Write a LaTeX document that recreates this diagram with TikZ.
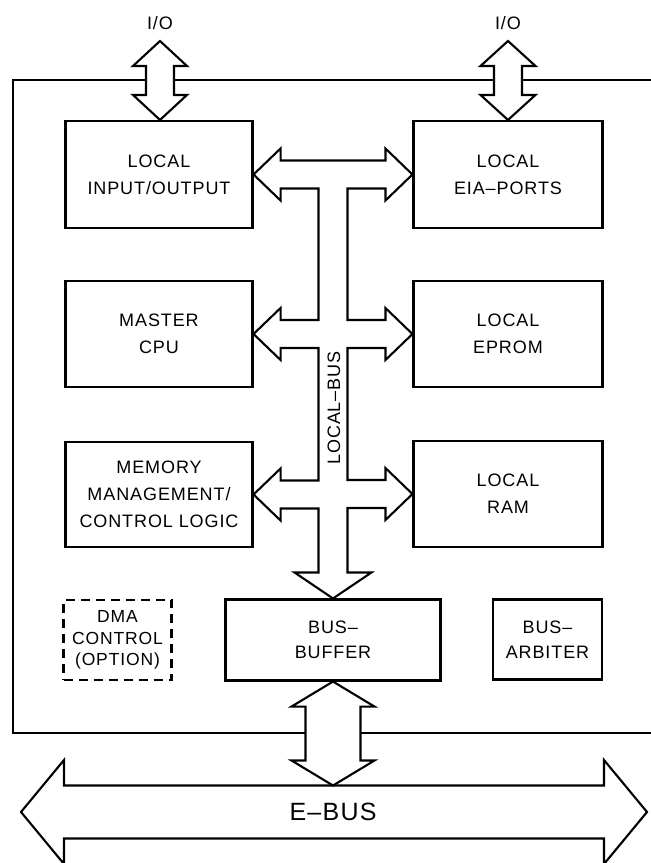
\documentclass[tikz,border=0pt]{standalone}
\usepackage{fontspec}
\setmainfont{Liberation Sans}[LetterSpace=5]
\usetikzlibrary{calc}

\newcommand\boxfont{\fontsize{18}{27}\selectfont}
\newcommand\dmafont{\fontsize{17.5}{21.5}\selectfont}
\newcommand\pairfont{\fontsize{18}{25}\selectfont}
\newcommand\ebusfont{\fontsize{25}{30}\selectfont}

\tikzset{
  lw/.style={line width=2.1pt},
  blockbox/.style={draw, lw, inner sep=0pt, align=center, font=\boxfont},
  optbox/.style={blockbox, dash pattern=on 9pt off 6pt, font=\dmafont},
  pairbox/.style={blockbox, font=\pairfont},
  fatarrow/.style={draw, lw, fill=white, line join=miter},
  label/.style={inner sep=0pt, font=\boxfont},
}

% vertical two-headed block arrow: top tip #1, bottom tip #2,
% shaft half width #3, head half width #4, head length #5
\newcommand\vbiarrow[5]{%
  \draw[fatarrow] let \p1=(#1), \p2=(#2) in
    (\x1,\y1) -- (\x1+#4,\y1-#5) -- (\x1+#3,\y1-#5) -- (\x1+#3,\y2+#5)
    -- (\x1+#4,\y2+#5) -- (\x1,\y2) -- (\x1-#4,\y2+#5) -- (\x1-#3,\y2+#5)
    -- (\x1-#3,\y1-#5) -- (\x1-#4,\y1-#5) -- cycle;}

% horizontal two-headed block arrow: left tip #1, right tip #2
\newcommand\hbiarrow[5]{%
  \draw[fatarrow] let \p1=(#1), \p2=(#2) in
    (\x1,\y1) -- (\x1+#5,\y1+#4) -- (\x1+#5,\y1+#3) -- (\x2-#5,\y1+#3)
    -- (\x2-#5,\y1+#4) -- (\x2,\y1) -- (\x2-#5,\y1-#4) -- (\x2-#5,\y1-#3)
    -- (\x1+#5,\y1-#3) -- (\x1+#5,\y1-#4) -- cycle;}

\begin{document}
\begin{tikzpicture}[x=1pt,y=-1pt]
\useasboundingbox (0,0) rectangle (651,863);

% board outline (open to the right)
\draw[lw] (651,80) -| (13,733) -- (651,733);

% function blocks
\node[blockbox, minimum width=187pt, minimum height=107pt] (lio)   at (159,174.5) {LOCAL\\INPUT/OUTPUT};
\node[blockbox, minimum width=189pt, minimum height=107pt] (eia)   at (508,174.5) {LOCAL\\EIA--PORTS};
\node[blockbox, minimum width=187pt, minimum height=106pt] (cpu)   at (159,334)   {MASTER\\CPU};
\node[blockbox, minimum width=189pt, minimum height=106pt] (eprom) at (508,334)   {LOCAL\\EPROM};
\node[blockbox, minimum width=187pt, minimum height=105pt] (mmu)   at (159,494.5) {MEMORY\\MANAGEMENT/\\CONTROL LOGIC};
\node[blockbox, minimum width=189pt, minimum height=106pt] (ram)   at (508,494)   {LOCAL\\RAM};
\node[optbox,   minimum width=108pt, minimum height=80pt]  (dma)   at (117.5,640) {DMA\\CONTROL\\(OPTION)};
\node[pairbox,  minimum width=215pt, minimum height=81pt]  (bbuf)  at (333,640)   {BUS--\\BUFFER};
\node[pairbox,  minimum width=109pt, minimum height=80pt]  (barb)  at (547.5,639.5) {BUS--\\ARBITER};

% external I/O
\node[label] (io1) at (160,23) {I/O};
\node[label] (io2) at (508,23) {I/O};
\coordinate (io1end) at (160,41);
\coordinate (io2end) at (508,41);
\vbiarrow{io1end}{lio.north}{14pt}{27pt}{25pt}
\vbiarrow{io2end}{eia.north}{14pt}{27.5pt}{25pt}

% local bus
\draw[fatarrow] let \p1=(lio.east), \p2=(eia.west), \p3=(cpu.east), \p4=(eprom.west),
                    \p5=(mmu.east), \p6=(ram.west), \p7=(bbuf.north) in
  (\x1,\y1) -- (\x1+27pt,\y1+26pt) -- (\x1+27pt,\y1+14pt) -- (\x2-27pt,\y1+14pt)
  -- (\x2-27pt,\y1+26pt) -- (\x2,\y1) -- (\x2-27pt,\y1-26pt) -- (\x2-27pt,\y1-14pt)
  -- (\x7+14.5pt,\y1-14pt) -- (\x7+14.5pt,\y4+14pt) -- (\x4-27pt,\y4+14pt)
  -- (\x4-27pt,\y4+26pt) -- (\x4,\y4) -- (\x4-27pt,\y4-26pt) -- (\x4-27pt,\y4-14pt)
  -- (\x7+14.5pt,\y4-14pt) -- (\x7+14.5pt,\y6+14pt) -- (\x6-27pt,\y6+14pt)
  -- (\x6-27pt,\y6+26pt) -- (\x6,\y6) -- (\x6-27pt,\y6-26pt) -- (\x6-27pt,\y6-14pt)
  -- (\x7+14.5pt,\y6-14pt) -- (\x7+14.5pt,\y7+26pt) -- (\x7+38.5pt,\y7+26pt)
  -- (\x7,\y7) -- (\x7-38.5pt,\y7+26pt) -- (\x7-14.5pt,\y7+26pt)
  -- (\x7-14.5pt,\y5-14pt) -- (\x5+27pt,\y5-14pt) -- (\x5+27pt,\y5-26pt) -- (\x5,\y5)
  -- (\x5+27pt,\y5+26pt) -- (\x5+27pt,\y5+14pt) -- (\x7-14.5pt,\y5+14pt)
  -- (\x7-14.5pt,\y3-14pt) -- (\x3+27pt,\y3-14pt) -- (\x3+27pt,\y3-26pt) -- (\x3,\y3)
  -- (\x3+27pt,\y3+26pt) -- (\x3+27pt,\y3+14pt) -- (\x7-14.5pt,\y3+14pt)
  -- (\x7-14.5pt,\y1-14pt) -- (\x1+27pt,\y1-14pt) -- (\x1+27pt,\y1-26pt) -- cycle;
\node[label, rotate=90] (lbus) at (334,408) {LOCAL--BUS};

% external bus
\coordinate (ebl) at (21,812);
\coordinate (ebr) at (647,812);
\hbiarrow{ebl}{ebr}{26.5pt}{52pt}{43pt}
\node[inner sep=0pt, font=\ebusfont] (ebus) at (333,812) {E--BUS};
\coordinate (ebtop) at (333,785.5);
\vbiarrow{bbuf.south}{ebtop}{27.5pt}{41.5pt}{25pt}
\end{tikzpicture}
\end{document}
